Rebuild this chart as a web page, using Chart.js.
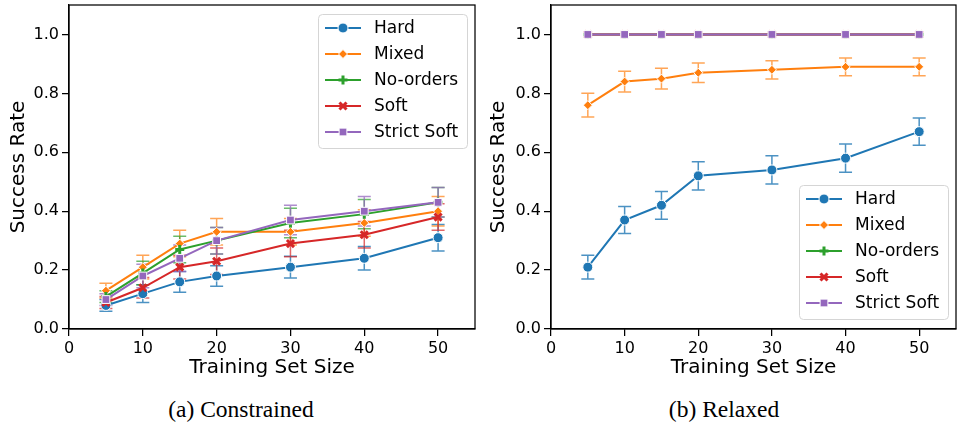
<!DOCTYPE html>
<html>
<head>
<meta charset="utf-8">
<script src="https://cdn.jsdelivr.net/npm/chart.js@4.4.1/dist/chart.umd.min.js"></script>
<style>
  html, body { margin: 0; padding: 0; background: #fff; }
  #wrap { position: relative; width: 957px; height: 426px; background: #fff; overflow: hidden; }
  canvas { position: absolute; top: 0; }
  #cA { left: 0; }
  #cB { left: 480px; }
  .cap { position: absolute; top: 396px; font-family: "Liberation Serif", "Times New Roman", serif; font-size: 23.5px; color: #000; transform: translateX(-50%); white-space: nowrap; }
</style>
</head>
<body>
<div id="wrap">
  <canvas id="cA" width="480" height="385"></canvas>
  <canvas id="cB" width="477" height="385"></canvas>
  <div class="cap" style="left:241px">(a) Constrained</div>
  <div class="cap" style="left:724px">(b) Relaxed</div>
</div>
<script>
const sizes = [5, 10, 15, 20, 30, 40, 50];
const methods = ['Hard', 'Mixed', 'No-orders', 'Soft', 'Strict Soft'];
const xTicks = [0, 10, 20, 30, 40, 50];
const yTicks = [0, 0.2, 0.4, 0.6, 0.8, 1.0];

// (a) Constrained
const conHard = [0.08, 0.12, 0.16, 0.18, 0.21, 0.24, 0.31];
const conMixed = [0.13, 0.21, 0.29, 0.33, 0.33, 0.36, 0.40];
const conNoOrders = [0.11, 0.19, 0.27, 0.30, 0.36, 0.39, 0.43];
const conSoft = [0.09, 0.14, 0.21, 0.23, 0.29, 0.32, 0.38];
const conStrict = [0.10, 0.18, 0.24, 0.30, 0.37, 0.40, 0.43];
const conHardErr = [0.02, 0.03, 0.035, 0.035, 0.037, 0.04, 0.045];
const conMixedErr = [0.025, 0.04, 0.045, 0.045, 0.045, 0.045, 0.05];
const conNoOrdersErr = [0.02, 0.04, 0.045, 0.045, 0.05, 0.05, 0.05];
const conSoftErr = [0.02, 0.035, 0.04, 0.045, 0.045, 0.045, 0.045];
const conStrictErr = [0.02, 0.04, 0.045, 0.045, 0.05, 0.05, 0.05];

// (b) Relaxed
const relHard = [0.21, 0.37, 0.42, 0.52, 0.54, 0.58, 0.67];
const relMixed = [0.76, 0.84, 0.85, 0.87, 0.88, 0.89, 0.89];
const relNoOrders = [1.0, 1.0, 1.0, 1.0, 1.0, 1.0, 1.0];
const relSoft = [1.0, 1.0, 1.0, 1.0, 1.0, 1.0, 1.0];
const relStrict = [1.0, 1.0, 1.0, 1.0, 1.0, 1.0, 1.0];
const relHardErr = [0.04, 0.046, 0.047, 0.048, 0.048, 0.048, 0.046];
const relMixedErr = [0.04, 0.035, 0.035, 0.033, 0.031, 0.03, 0.03];
const relNoOrdersErr = [0, 0, 0, 0, 0, 0, 0];
const relSoftErr = [0, 0, 0, 0, 0, 0, 0];
const relStrictErr = [0, 0, 0, 0, 0, 0, 0];

const colors = ['#1f77b4', '#ff7f0e', '#2ca02c', '#d62728', '#9467bd'];
const errColors = ['rgba(31,119,180,0.8)', 'rgba(255,127,14,0.7)', 'rgba(44,160,44,0.7)', 'rgba(214,39,40,0.7)', 'rgba(148,103,189,0.75)'];
const markers = [
  { pointStyle: 'circle', radius: 5, borderWidth: 1, borderColor: '#fff' },
  { pointStyle: 'rectRot', radius: 4.5, borderWidth: 1, borderColor: '#fff' },
  { pointStyle: 'cross', radius: 4.5, borderWidth: 3, borderColor: null },
  { pointStyle: 'crossRot', radius: 5, borderWidth: 3, borderColor: null },
  { pointStyle: 'rect', radius: 5.5, borderWidth: 1, borderColor: '#fff' }
];

const tickFont = { family: 'DejaVu Sans', size: 16 };
const titleFont = { family: 'DejaVu Sans', size: 20 };

function makeDatasets(series, errs) {
  return series.map((vals, i) => ({
    label: methods[i],
    data: vals.map((v, j) => ({ x: sizes[j], y: v })),
    err: errs[i],
    borderColor: colors[i],
    backgroundColor: colors[i],
    borderWidth: 2,
    pointStyle: markers[i].pointStyle,
    pointRadius: markers[i].radius,
    pointBackgroundColor: colors[i],
    pointBorderColor: markers[i].borderColor || colors[i],
    pointBorderWidth: markers[i].borderWidth,
    order: series.length - i,
    tension: 0
  }));
}

// error bars with caps, drawn under the lines
const errorBars = {
  id: 'errorBars',
  beforeDatasetsDraw(chart) {
    const { ctx, scales: { x, y } } = chart;
    ctx.save();
    ctx.lineWidth = 1.5;
    chart.data.datasets.forEach((ds, i) => {
      ctx.strokeStyle = errColors[i];
      ds.data.forEach((p, j) => {
        const e = ds.err[j];
        if (!e) return;
        const px = x.getPixelForValue(p.x);
        const top = y.getPixelForValue(p.y + e);
        const bot = y.getPixelForValue(p.y - e);
        ctx.beginPath();
        ctx.moveTo(px, top); ctx.lineTo(px, bot);
        ctx.moveTo(px - 6.5, top); ctx.lineTo(px + 6.5, top);
        ctx.moveTo(px - 6.5, bot); ctx.lineTo(px + 6.5, bot);
        ctx.stroke();
      });
    });
    ctx.restore();
  }
};

// full box around the plot area
const frame = {
  id: 'frame',
  afterDraw(chart) {
    const { ctx, chartArea: a } = chart;
    ctx.save();
    ctx.strokeStyle = '#000';
    ctx.lineWidth = 1.25;
    ctx.strokeRect(a.left, a.top, a.right - a.left, a.bottom - a.top);
    ctx.restore();
  }
};

// matplotlib-like legend box inside the axes
const boxLegend = {
  id: 'boxLegend',
  afterDraw(chart, args, opts) {
    const { ctx, chartArea: a } = chart;
    const w = 149, h = 134, row = 26;
    const left = a.right - 8 - w;
    const top = opts.corner === 'bottom' ? a.bottom - 10 - h : a.top + 9;
    ctx.save();
    ctx.beginPath();
    ctx.roundRect(left + 0.5, top + 0.5, w, h, 4);
    ctx.fillStyle = 'rgba(255,255,255,0.85)';
    ctx.fill();
    ctx.strokeStyle = '#d5d5d5';
    ctx.lineWidth = 1;
    ctx.stroke();
    ctx.font = '17px "DejaVu Sans"';
    ctx.textBaseline = 'middle';
    methods.forEach((m, i) => {
      const cy = top + 14 + i * row;
      ctx.strokeStyle = colors[i];
      ctx.lineWidth = 2;
      ctx.beginPath();
      ctx.moveTo(left + 7, cy); ctx.lineTo(left + 43, cy);
      ctx.stroke();
      ctx.fillStyle = colors[i];
      ctx.strokeStyle = markers[i].borderColor || colors[i];
      ctx.lineWidth = markers[i].borderWidth;
      Chart.helpers.drawPoint(ctx, {
        pointStyle: markers[i].pointStyle,
        radius: markers[i].radius,
        rotation: 0,
        borderWidth: markers[i].borderWidth
      }, left + 25, cy);
      ctx.fillStyle = '#000';
      ctx.fillText(m, left + 56, cy + 1);
    });
    ctx.restore();
  }
};

function makeChart(id, datasets, yWidth, padRight, corner) {
  return new Chart(document.getElementById(id), {
    type: 'line',
    data: { datasets },
    options: {
      responsive: false,
      animation: false,
      layout: { autoPadding: false, padding: { left: 0, top: 5, right: padRight, bottom: 0 } },
      plugins: {
        legend: { display: false },
        tooltip: { enabled: false },
        boxLegend: { corner }
      },
      scales: {
        x: {
          type: 'linear',
          min: 0,
          max: 55,
          afterBuildTicks: s => { s.ticks = xTicks.map(v => ({ value: v })); },
          afterFit: s => { s.height = 56; s.paddingLeft = 0; s.paddingRight = 0; },
          ticks: { font: tickFont, color: '#000', padding: 3, maxRotation: 0 },
          grid: { display: true, drawOnChartArea: false, drawTicks: true, tickLength: 7, color: '#000', lineWidth: 1.25 },
          border: { display: true, color: '#000', width: 1.25 },
          title: { display: true, text: 'Training Set Size', font: titleFont, color: '#000', padding: { top: 0, bottom: 5 } }
        },
        y: {
          min: 0,
          max: 1.1,
          afterBuildTicks: s => { s.ticks = yTicks.map(v => ({ value: v })); },
          afterFit: s => { s.width = yWidth; s.paddingTop = 0; s.paddingBottom = 0; },
          ticks: { font: tickFont, color: '#000', padding: 3, callback: v => v.toFixed(1) },
          grid: { display: true, drawOnChartArea: false, drawTicks: true, tickLength: 7, color: '#000', lineWidth: 1.25 },
          border: { display: true, color: '#000', width: 1.25 },
          title: { display: true, text: 'Success Rate', font: titleFont, color: '#000', padding: { top: 7, bottom: 0 } }
        }
      }
    },
    plugins: [errorBars, frame, boxLegend]
  });
}

makeChart('cA', makeDatasets(
  [conHard, conMixed, conNoOrders, conSoft, conStrict],
  [conHardErr, conMixedErr, conNoOrdersErr, conSoftErr, conStrictErr]
), 69, 5, 'top');

makeChart('cB', makeDatasets(
  [relHard, relMixed, relNoOrders, relSoft, relStrict],
  [relHardErr, relMixedErr, relNoOrdersErr, relSoftErr, relStrictErr]
), 71, 1, 'bottom');
</script>
</body>
</html>
